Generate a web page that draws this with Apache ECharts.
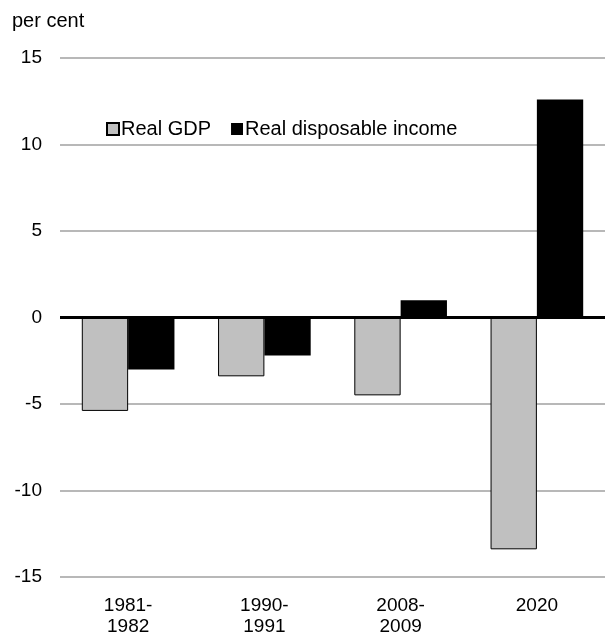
<!DOCTYPE html>
<html>
<head>
<meta charset="utf-8">
<script src="https://cdn.jsdelivr.net/npm/echarts@6/dist/echarts.min.js"></script>
<style>
  html, body { margin: 0; padding: 0; background: #fff; }
  #chart { width: 605px; height: 637px; }
</style>
</head>
<body>
<div id="chart"></div>
<script>
var categories = ['1981-\n1982', '1990-\n1991', '2008-\n2009', '2020'];
var realGdp = [-5.4, -3.4, -4.5, -13.4];
var realIncome = [-3.0, -2.2, 1.0, 12.6];
var yTicks = [-15, -10, -5, 0, 5, 10, 15];

var fontName = 'Liberation Sans';

var myChart = echarts.init(document.getElementById('chart'));
var option = {
    backgroundColor: '#fff',
    animation: false,
    textStyle: { fontFamily: fontName },
    graphic: [
        {
            type: 'text',
            left: 12,
            top: 11,
            style: { text: 'per cent', fontFamily: fontName, fontSize: 20, fill: '#000' }
        }
    ],
    legend: {
        left: 101,
        top: 114,
        icon: 'rect',
        itemWidth: 12,
        itemHeight: 12,
        itemGap: 20,
        textStyle: { fontFamily: fontName, fontSize: 20, color: '#000', padding: [0, 0, 0, -3] },
        data: ['Real GDP', 'Real disposable income']
    },
    grid: { left: 60, right: 0, top: 58, bottom: 57 },
    xAxis: {
        type: 'category',
        data: categories,
        axisLine: { show: false },
        axisTick: { show: false },
        axisLabel: {
            fontFamily: fontName,
            fontSize: 19,
            color: '#000',
            lineHeight: 21,
            margin: 18
        }
    },
    yAxis: {
        type: 'value',
        min: yTicks[0],
        max: yTicks[yTicks.length - 1],
        interval: 5,
        axisLine: { show: false },
        axisTick: { show: false },
        splitLine: { lineStyle: { color: '#a0a0a0', width: 1.5 } },
        axisLabel: { fontFamily: fontName, fontSize: 19, color: '#000', margin: 18 }
    },
    series: [
        {
            name: 'Real GDP',
            type: 'bar',
            barGap: '0%',
            barCategoryGap: '32%',
            itemStyle: { color: '#c0c0c0', borderColor: '#000', borderWidth: 1 },
            data: realGdp,
            markLine: {
                silent: true,
                symbol: 'none',
                label: { show: false },
                lineStyle: { color: '#000', width: 3, type: 'solid' },
                data: [{ yAxis: 0 }]
            }
        },
        {
            name: 'Real disposable income',
            type: 'bar',
            itemStyle: { color: '#000' },
            data: realIncome
        }
    ]
};
myChart.setOption(option);
</script>
</body>
</html>
